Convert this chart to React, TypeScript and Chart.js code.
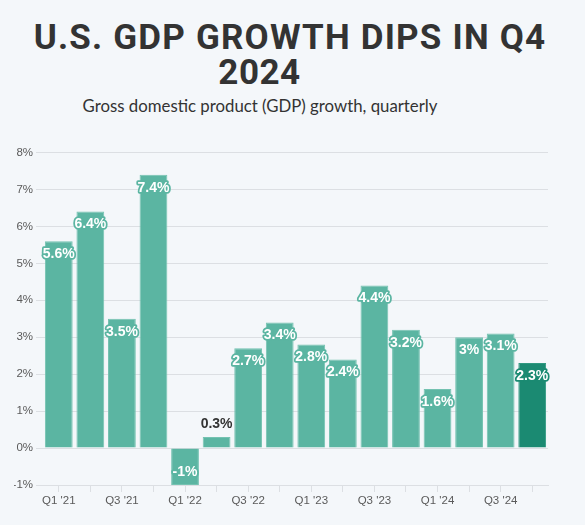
import React, { useEffect, useRef } from "react";
import { Chart, registerables } from "chart.js";

Chart.register(...registerables);

const quarters = [
  "Q1 '21", "Q2 '21", "Q3 '21", "Q4 '21",
  "Q1 '22", "Q2 '22", "Q3 '22", "Q4 '22",
  "Q1 '23", "Q2 '23", "Q3 '23", "Q4 '23",
  "Q1 '24", "Q2 '24", "Q3 '24", "Q4 '24",
];
const growth = [5.6, 6.4, 3.5, 7.4, -1, 0.3, 2.7, 3.4, 2.8, 2.4, 4.4, 3.2, 1.6, 3.0, 3.1, 2.3];
const yTicks = [-1, 0, 1, 2, 3, 4, 5, 6, 7, 8];

const BAR = "#5bb5a2";
const BAR_LAST = "#1b8a72";
const BORDER = "#74c2b1";
const BORDER_LAST = "#2f9880";

const labelPlugin = {
  id: "barLabels",
  afterDatasetsDraw(chart: any) {
    const ctx = chart.ctx;
    const meta = chart.getDatasetMeta(0);
    const data = chart.data.datasets[0].data as number[];
    ctx.save();
    ctx.font = "bold 14px 'Liberation Sans', Arial, sans-serif";
    ctx.textAlign = "center";
    ctx.textBaseline = "middle";
    ctx.lineJoin = "round";
    meta.data.forEach((bar: any, i: number) => {
      const v = data[i];
      const text = `${v}%`;
      const len = Math.abs(bar.base - bar.y);
      const dir = v >= 0 ? 1 : -1;
      const color = i === data.length - 1 ? BAR_LAST : BAR;
      if (len > 25) {
        const ty = bar.y + dir * 13;
        ctx.lineWidth = 3.5;
        ctx.strokeStyle = color;
        ctx.strokeText(text, bar.x, ty);
        ctx.fillStyle = "#ffffff";
        ctx.fillText(text, bar.x, ty);
      } else {
        const ty = bar.y - dir * 12.5;
        ctx.fillStyle = "#333333";
        ctx.fillText(text, bar.x, ty);
      }
    });
    ctx.restore();
  },
};

export default function App() {
  const ref = useRef<HTMLCanvasElement>(null);

  useEffect(() => {
    if (!ref.current) return;
    const chart = new Chart(ref.current, {
      type: "bar",
      data: {
        labels: quarters,
        datasets: [
          {
            data: growth,
            backgroundColor: growth.map((_, i) => (i === growth.length - 1 ? BAR_LAST : BAR)),
            borderColor: growth.map((_, i) => (i === growth.length - 1 ? BORDER_LAST : BORDER)),
            borderWidth: 1,
            categoryPercentage: 1,
            barPercentage: 0.88,
          },
        ],
      },
      options: {
        responsive: false,
        animation: false,
        devicePixelRatio: 1,
        layout: { padding: { left: 14, right: 37, top: 12.5, bottom: 0 } },
        plugins: {
          legend: { display: false },
          title: { display: false },
          tooltip: { enabled: false },
        },
        scales: {
          x: {
            grid: {
              display: true,
              drawOnChartArea: false,
              drawTicks: true,
              tickLength: 7,
              offset: false,
              color: "#dcdfe3",
            },
            border: { display: true, color: "#dcdfe3" },
            ticks: {
              autoSkip: false,
              maxRotation: 0,
              padding: 2,
              color: "#5a5a5a",
              font: { family: "'Liberation Sans', Arial, sans-serif", size: 11.5 },
              callback: (_v: any, i: number) => (i % 2 === 0 ? quarters[i] : ""),
            },
            afterFit: (s: any) => {
              s.height = 40;
            },
          },
          y: {
            min: yTicks[0],
            max: yTicks[yTicks.length - 1],
            afterBuildTicks: (s: any) => {
              s.ticks = yTicks.map((v) => ({ value: v }));
            },
            grid: { color: "#dcdfe3", tickLength: 7, drawTicks: true },
            border: { display: false },
            ticks: {
              padding: 3,
              color: "#5a5a5a",
              font: { family: "'Liberation Sans', Arial, sans-serif", size: 11.5 },
              callback: (v: any) => `${v}%`,
            },
            afterFit: (s: any) => {
              s.width = 29;
            },
          },
        },
      },
      plugins: [labelPlugin],
    });
    return () => chart.destroy();
  }, []);

  return (
    <div
      style={{
        position: "fixed",
        left: 0,
        top: 0,
        width: 585,
        height: 525,
        background: "#f4f7fa",
        overflow: "hidden",
      }}
    >
      <div
        style={{
          position: "absolute",
          left: 0,
          top: 19.5,
          width: 580,
          textAlign: "center",
          fontFamily: "Roboto, 'Liberation Sans', sans-serif",
          fontWeight: 700,
          fontSize: 35,
          letterSpacing: "1.2px",
          lineHeight: "35px",
          color: "#333333",
          whiteSpace: "nowrap",
        }}
      >
        U.S. GDP GROWTH DIPS IN Q4
      </div>
      <div
        style={{
          position: "absolute",
          left: 0,
          top: 54.5,
          width: 519,
          textAlign: "center",
          fontFamily: "Roboto, 'Liberation Sans', sans-serif",
          fontWeight: 700,
          fontSize: 35,
          letterSpacing: "0.5px",
          lineHeight: "35px",
          color: "#333333",
        }}
      >
        2024
      </div>
      <div
        style={{
          position: "absolute",
          left: 0,
          top: 96,
          width: 520,
          textAlign: "center",
          fontFamily: "Lato, 'Noto Sans', sans-serif",
          fontSize: 16.8,
          lineHeight: "20px",
          color: "#333333",
        }}
      >
        Gross domestic product (GDP) growth, quarterly
      </div>
      <canvas
        ref={ref}
        width={585}
        height={385}
        style={{ position: "absolute", left: 0, top: 140, width: 585, height: 385 }}
      />
    </div>
  );
}
